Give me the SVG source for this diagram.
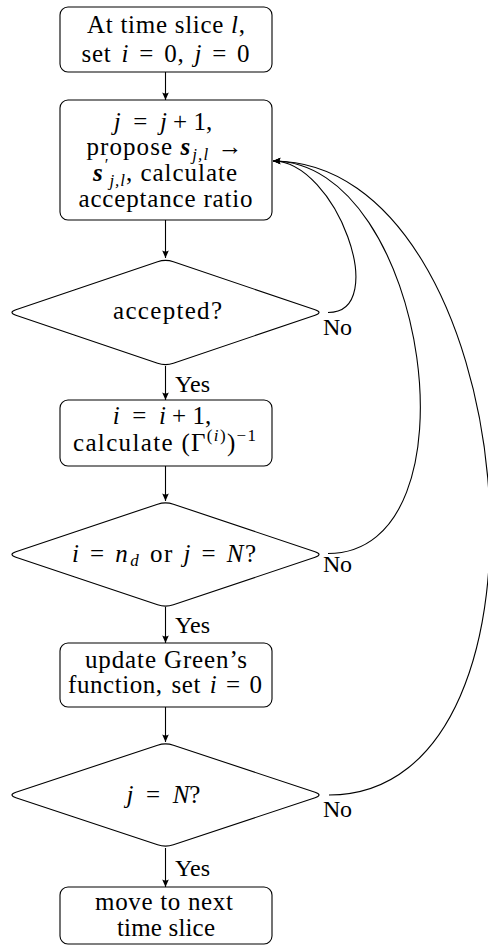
<svg xmlns="http://www.w3.org/2000/svg" width="488" height="946" viewBox="0 0 488 946" font-family="'Liberation Serif', 'DejaVu Serif', serif">
<style>
  .box { fill: #ffffff; stroke: #000000; stroke-width: 1.1; }
  .t { font-size: 25px; fill: #000000; text-anchor: middle; }
  .lbl { font-size: 24px; fill: #000000; }
  .m { font-style: italic; }
  .bm { font-style: italic; font-weight: bold; }
  .sub { font-size: 17px; font-style: italic; }
  .sup { font-size: 17px; }
  .conn { fill: none; stroke: #000000; stroke-width: 1.1; }
</style>
<defs>
  <marker id="arr" markerUnits="userSpaceOnUse" markerWidth="12" markerHeight="10" viewBox="-9 -5 10 10" refX="0" refY="0" orient="auto">
    <path d="M0,0 L-7.5,-3.3 Q-5.3,0 -7.5,3.3 Z" fill="#000000"/>
  </marker>
</defs>
<rect width="488" height="946" fill="#ffffff"/>

<g id="connectors">
  <line class="conn" x1="165.5" y1="72" x2="165.5" y2="100" marker-end="url(#arr)"/>
  <line class="conn" x1="165.5" y1="220" x2="165.5" y2="258" marker-end="url(#arr)"/>
  <line class="conn" x1="165.5" y1="366" x2="165.5" y2="400" marker-end="url(#arr)"/>
  <line class="conn" x1="165.5" y1="466" x2="165.5" y2="501" marker-end="url(#arr)"/>
  <line class="conn" x1="165.5" y1="607" x2="165.5" y2="643" marker-end="url(#arr)"/>
  <line class="conn" x1="165.5" y1="707" x2="165.5" y2="742" marker-end="url(#arr)"/>
  <line class="conn" x1="165.5" y1="848" x2="165.5" y2="887" marker-end="url(#arr)"/>
  <path class="conn" d="M328,312.5 C391,312.5 336,161 273,161" marker-end="url(#arr)"/>
  <path class="conn" d="M328,553.5 C483,553.5 428,161 273,161" marker-end="url(#arr)"/>
  <path class="conn" d="M329,795 C578,795 522,161 273,161" marker-end="url(#arr)"/>
  <text class="lbl" x="175" y="391.5" textLength="35">Yes</text>
  <text class="lbl" x="175" y="633" textLength="35">Yes</text>
  <text class="lbl" x="175" y="876" textLength="35">Yes</text>
  <text class="lbl" x="323" y="335" textLength="29">No</text>
  <text class="lbl" x="323" y="572" textLength="29">No</text>
  <text class="lbl" x="323" y="816.5" textLength="29">No</text>
</g>

<g id="start">
  <rect class="box" x="60" y="7" width="212" height="65" rx="8"/>
  <text class="t" x="166" y="32.5" textLength="158">At time slice <tspan class="m">l</tspan>,</text>
  <text class="t" x="165.5" y="61.5" word-spacing="3" textLength="168">set <tspan class="m">i</tspan> = 0, <tspan class="m">j</tspan> = 0</text>
</g>

<g id="propose">
  <rect class="box" x="60" y="100" width="212" height="120" rx="8"/>
  <text class="t" x="163" y="129.5"><tspan class="m">j</tspan>&#160;&#160;=&#160;&#160;<tspan class="m">j</tspan> + 1,</text>
  <text class="t" x="164.5" y="155" textLength="156">propose <tspan class="bm">s</tspan><tspan class="sub" dx="1" dy="5">j,l</tspan><tspan dx="1" dy="-5"> →</tspan></text>
  <text class="t" x="165" y="180.5" textLength="144"><tspan class="bm">s</tspan><tspan class="sup" dx="1" dy="-11">′</tspan><tspan class="sub" dx="0" dy="16">j,l</tspan><tspan dy="-5">, calculate</tspan></text>
  <text class="t" x="165.5" y="206.5" textLength="174">acceptance ratio</text>
</g>

<g id="accepted">
  <path class="box" d="M173.4,261.7 L315.1,309.8 Q323,312.5 315.1,315.2 L173.4,363.3 Q165.5,366 157.6,363.3 L15.9,315.2 Q8,312.5 15.9,309.8 L157.6,261.7 Q165.5,259 173.4,261.7 Z"/>
  <text class="t" x="167.5" y="319" textLength="109">accepted?</text>
</g>

<g id="increment">
  <rect class="box" x="60" y="400" width="212" height="66" rx="8"/>
  <text class="t" x="162" y="423.5"><tspan class="m">i</tspan>&#160;&#160;=&#160;&#160;<tspan class="m">i</tspan> + 1,</text>
  <text class="t" x="164.5" y="450.5" textLength="183">calculate (Γ<tspan class="sup" dy="-10">(<tspan class="m">i</tspan>)</tspan><tspan dy="10">)</tspan><tspan class="sup" dy="-10">−1</tspan></text>
</g>

<g id="check-nd">
  <path class="box" d="M173.4,504.2 L315.1,551.8 Q323,554.5 315.1,557.2 L173.4,604.8 Q165.5,607.5 157.6,604.8 L15.9,557.2 Q8,554.5 15.9,551.8 L157.6,504.2 Q165.5,501.5 173.4,504.2 Z"/>
  <text class="t" x="164" y="562" word-spacing="2" textLength="184"><tspan class="m">i</tspan> = <tspan class="m">n</tspan><tspan class="sub" dx="1" dy="4">d</tspan><tspan dy="-4"> or </tspan><tspan class="m">j</tspan> = <tspan class="m">N</tspan>?</text>
</g>

<g id="update">
  <rect class="box" x="60" y="643" width="212" height="64" rx="8"/>
  <text class="t" x="166" y="668" textLength="162">update Green’s</text>
  <text class="t" x="165" y="693" word-spacing="2" textLength="194">function, set <tspan class="m">i</tspan> = 0</text>
</g>

<g id="check-N">
  <path class="box" d="M173.4,745.2 L315.1,792.3 Q323,795 315.1,797.7 L173.4,844.8 Q165.5,847.5 157.6,844.8 L15.9,797.7 Q8,795 15.9,792.3 L157.6,745.2 Q165.5,742.5 173.4,745.2 Z"/>
  <text class="t" x="163.5" y="803"><tspan class="m">j</tspan>&#160;&#160;=&#160;&#160;<tspan class="m">N</tspan>?</text>
</g>

<g id="next">
  <rect class="box" x="60" y="887" width="212" height="57" rx="8"/>
  <text class="t" x="164" y="910" textLength="138">move to next</text>
  <text class="t" x="166" y="936" textLength="98">time slice</text>
</g>
</svg>
